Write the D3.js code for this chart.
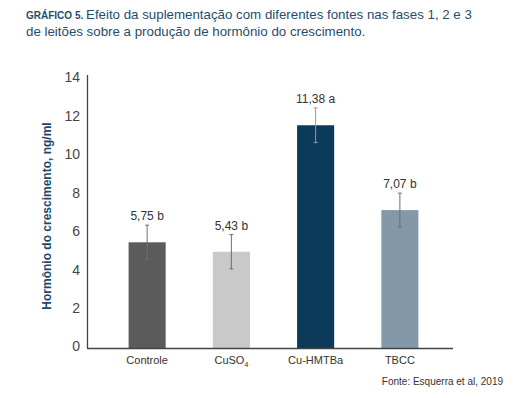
<!DOCTYPE html>
<html>
<head>
<meta charset="utf-8">
<script src="https://cdn.jsdelivr.net/npm/d3@7"></script>
<style>
  body { margin: 0; background: #fff; }
  svg { display: block; font-family: "Liberation Sans", Arial, sans-serif; }
</style>
</head>
<body>
<div id="vis"></div>
<script>
// chart data
const categories = ["Controle", "CuSO4", "Cu-HMTBa", "TBCC"];
const values = [5.48, 4.99, 11.55, 7.15];      // bar heights as drawn
const errors = [0.89, 0.89, 0.90, 0.88];       // half length of the error bars
const valueLabels = ["5,75 b", "5,43 b", "11,38 a", "7,07 b"];
const barColors = ["#5b5b5b", "#c9c9c9", "#0c3a5a", "#8399aa"];
const yTicks = [0, 2, 4, 6, 8, 10, 12, 14];

const W = 515, H = 398;

var svg = d3.select("#vis").append("svg")
    .attr("width", W)
    .attr("height", H);

// TITLE
var title = svg.append("text")
    .attr("x", 26)
    .attr("y", 19)
    .attr("fill", "#1f4d6d");
title.append("tspan")
    .attr("font-size", "10px")
    .attr("font-weight", "bold")
    .text("GRÁFICO 5. ");
title.append("tspan")
    .attr("font-size", "13.3px")
    .text("Efeito da suplementação com diferentes fontes nas fases 1, 2 e 3");
svg.append("text")
    .attr("x", 26)
    .attr("y", 36)
    .attr("font-size", "13.3px")
    .attr("fill", "#1f4d6d")
    .text("de leitões sobre a produção de hormônio do crescimento.");

// SCALES
var y = d3.scaleLinear().domain([0, 14]).range([348, 78]);
var x = d3.scaleBand().domain(categories).range([105, 442])
    .paddingInner(0.56).paddingOuter(0.28);

// Y AXIS
var yAxis = svg.append("g")
    .attr("transform", "translate(87,0)")
    .call(d3.axisLeft(y).tickValues(yTicks).tickSize(0).tickPadding(7));
yAxis.select(".domain").remove();
yAxis.selectAll("text")
    .attr("font-family", "Liberation Sans, Arial, sans-serif")
    .attr("font-size", "14px")
    .attr("fill", "#444")
    .attr("dy", function(d) { return (d === 0 ? -3 : -1.5) + 5; });
svg.append("line")
    .attr("x1", 87.5).attr("x2", 87.5)
    .attr("y1", y(14) - 3).attr("y2", y(0))
    .attr("stroke", "#444").attr("stroke-width", 1.3);

// axis title
svg.append("text")
    .attr("transform", "translate(51," + 216 + ") rotate(-90)")
    .attr("text-anchor", "middle")
    .attr("font-size", "12px")
    .attr("font-weight", "bold")
    .attr("fill", "#1c4a6c")
    .text("Hormônio do crescimento, ng/ml");

// BARS
var bars = svg.append("g").selectAll("rect")
    .data(categories)
    .join("rect")
    .attr("x", d => x(d))
    .attr("width", x.bandwidth())
    .attr("y", (d, i) => y(values[i]))
    .attr("height", (d, i) => y(0) - y(values[i]))
    .attr("fill", (d, i) => barColors[i]);

// ERROR BARS
var err = svg.append("g").selectAll("g")
    .data(categories)
    .join("g")
    .attr("stroke", (d, i) => i === 2 ? "#9a9a9a" : "#6e6e6e")
    .attr("stroke-width", 1);
err.append("line")
    .attr("x1", d => x(d) + x.bandwidth() / 2)
    .attr("x2", d => x(d) + x.bandwidth() / 2)
    .attr("y1", (d, i) => y(values[i] + errors[i]))
    .attr("y2", (d, i) => y(values[i] - errors[i]));
err.append("line")
    .attr("x1", d => x(d) + x.bandwidth() / 2 - 2)
    .attr("x2", d => x(d) + x.bandwidth() / 2 + 2)
    .attr("y1", (d, i) => y(values[i] + errors[i]))
    .attr("y2", (d, i) => y(values[i] + errors[i]));
err.append("line")
    .attr("x1", d => x(d) + x.bandwidth() / 2 - 2)
    .attr("x2", d => x(d) + x.bandwidth() / 2 + 2)
    .attr("y1", (d, i) => y(values[i] - errors[i]))
    .attr("y2", (d, i) => y(values[i] - errors[i]));

// VALUE LABELS
svg.append("g").selectAll("text")
    .data(categories)
    .join("text")
    .attr("x", d => x(d) + x.bandwidth() / 2)
    .attr("y", (d, i) => y(values[i] + errors[i]) - 5)
    .attr("text-anchor", "middle")
    .attr("font-size", "12px")
    .attr("fill", "#333")
    .text((d, i) => valueLabels[i]);

// X AXIS
svg.append("line")
    .attr("x1", 87).attr("x2", 453)
    .attr("y1", y(0) + 0.5).attr("y2", y(0) + 0.5)
    .attr("stroke", "#444").attr("stroke-width", 1.3);

var xl = svg.append("g").selectAll("text")
    .data(categories)
    .join("text")
    .attr("x", d => x(d) + x.bandwidth() / 2)
    .attr("y", 364)
    .attr("text-anchor", "middle")
    .attr("font-size", "11px")
    .attr("fill", "#333");
xl.each(function(d) {
  var t = d3.select(this);
  if (d === "CuSO4") {
    t.append("tspan").text("CuSO");
    t.append("tspan").attr("font-size", "7px").attr("dy", 3).text("4");
  } else {
    t.text(d);
  }
});

// SOURCE
svg.append("text")
    .attr("x", 503)
    .attr("y", 385)
    .attr("text-anchor", "end")
    .attr("font-size", "10px")
    .attr("fill", "#333")
    .text("Fonte: Esquerra et al, 2019");
</script>
</body>
</html>
